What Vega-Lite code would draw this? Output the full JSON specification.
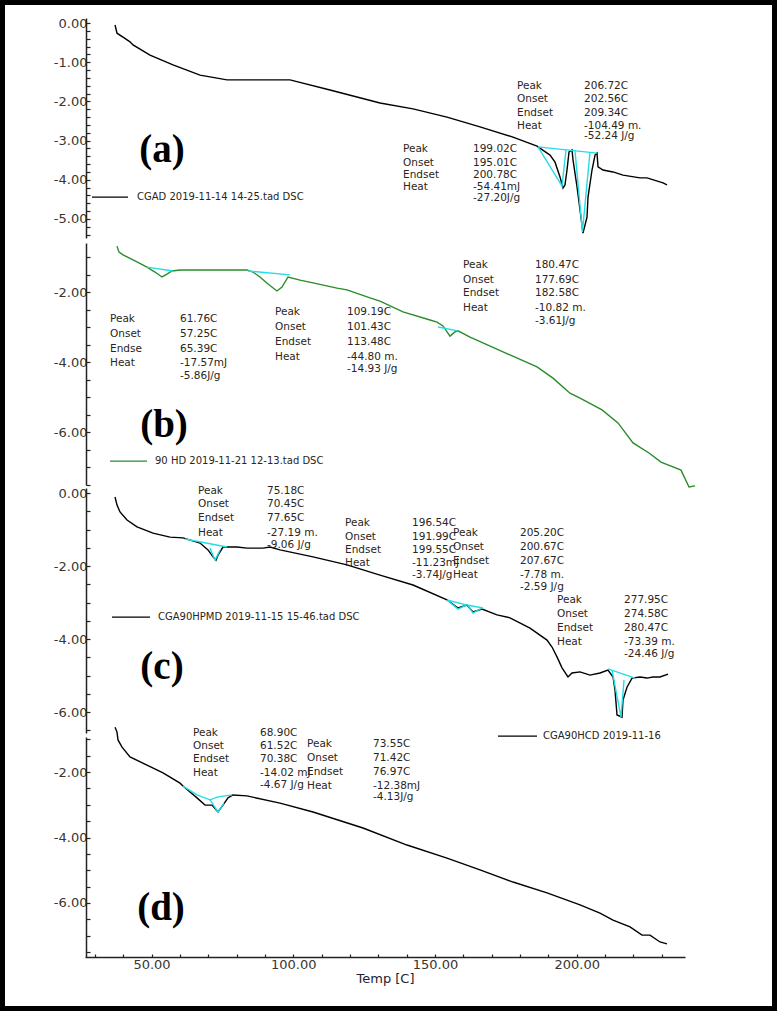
{
"$schema": "https://vega.github.io/schema/vega-lite/v6.json",
"width": 777, "height": 1011, "autosize": "none", "padding": 0, "background": "white",
"config": {
  "view": {"stroke": "black", "strokeWidth": 10, "fill": "white"},
  "axis": {"grid": false, "labelFont": "DejaVu Sans", "labelFontSize": 13, "labelColor": "#3a3530", "tickColor": "#222", "domainColor": "#222", "domainWidth": 1.5, "tickWidth": 1.2, "titleFont": "DejaVu Sans", "titleFontSize": 13, "titleFontWeight": "normal", "titleColor": "#223"}
},
"encoding": {
  "x": {"field": "T", "type": "quantitative",
    "scale": {"domain": [26.54, 238.18], "range": [85, 685], "zero": false, "nice": false},
    "axis": {"orient": "bottom", "offset": -54, "values": [30,40,50,60,70,80,90,100,110,120,130,140,150,160,170,180,190,200,210,220,230], "labelExpr": "datum.value % 50 === 0 ? format(datum.value, '.2f') : ''", "tickSize": -3, "labelPadding": 4, "title": "Temp [C]", "titlePadding": 1}}
},
"layer": [
{
  "encoding": {"y": {"field": "v", "type": "quantitative",
    "scale": {"domain": [-5.485, 0.128], "range": [238, 18], "zero": false, "nice": false},
    "axis": {"orient": "left", "offset": -86, "title": null, "tickSize": -4, "labelPadding": 3,
      "values": [0,-0.2,-0.4,-0.6,-0.8,-1,-1.2,-1.4,-1.6,-1.8,-2,-2.2,-2.4,-2.6,-2.8,-3,-3.2,-3.4,-3.6,-3.8,-4,-4.2,-4.4,-4.6,-4.8,-5,-5.2,-5.4],
      "labelExpr": "abs(datum.value % 1) < 0.001 ? replace(format(datum.value, '.2f'), '\u2212', '-') : ''"}}},
  "layer": [
    {"data": {"values": [
      {"T":37.13,"v":-0.05},{"T":37.83,"v":-0.26},{"T":39.95,"v":-0.36},{"T":42.42,"v":-0.48},{"T":43.48,"v":-0.56},{"T":49.47,"v":-0.82},{"T":57.58,"v":-1.07},{"T":67.11,"v":-1.33},{"T":76.63,"v":-1.45},{"T":98.85,"v":-1.45},{"T":112.96,"v":-1.71},{"T":130.60,"v":-2.04},{"T":142.24,"v":-2.19},{"T":154.23,"v":-2.40},{"T":165.87,"v":-2.65},{"T":177.51,"v":-2.91},{"T":185.98,"v":-3.14},{"T":190.56,"v":-3.37},{"T":192.33,"v":-3.55},{"T":194.09,"v":-3.93},{"T":195.15,"v":-4.21},{"T":195.85,"v":-4.13},{"T":196.56,"v":-3.75},{"T":197.27,"v":-3.29},{"T":198.33,"v":-3.24},{"T":198.68,"v":-3.49},{"T":200.09,"v":-4.18},{"T":201.15,"v":-4.77},{"T":202.20,"v":-5.36},{"T":203.62,"v":-4.95},{"T":203.97,"v":-4.44},{"T":205.38,"v":-3.75},{"T":206.44,"v":-3.37},{"T":207.14,"v":-3.32},{"T":207.50,"v":-3.67},{"T":209.26,"v":-3.75},{"T":212.79,"v":-3.80},{"T":216.31,"v":-3.88},{"T":222.31,"v":-3.95},{"T":224.78,"v":-3.95},{"T":230.42,"v":-4.08},{"T":231.83,"v":-4.13}]},
     "mark": {"type": "line", "color": "black", "strokeWidth": 1.4}, "encoding": {}},
    {"data": {"values": [
      {"g":"a1","T":186.33,"v":-3.16},{"g":"a1","T":207.14,"v":-3.32},
      {"g":"a2","T":186.33,"v":-3.16},{"g":"a2","T":194.80,"v":-4.16},{"g":"a2","T":196.2,"v":-3.24},
      {"g":"a3","T":199.39,"v":-3.27},{"g":"a3","T":202.0,"v":-5.33},{"g":"a3","T":204.67,"v":-3.29}]},
     "mark": {"type": "line", "color": "#22dde6", "strokeWidth": 1.4}, "encoding": {"detail": {"field": "g"}}},
    {"data": {"values": [
      {"T":178.92,"v":-1.61,"t":"Peak"},{"T":178.92,"v":-1.94,"t":"Onset"},{"T":178.92,"v":-2.30,"t":"Endset"},{"T":178.92,"v":-2.63,"t":"Heat"},
      {"T":202.56,"v":-1.61,"t":"206.72C"},{"T":202.56,"v":-1.94,"t":"202.56C"},{"T":202.56,"v":-2.30,"t":"209.34C"},{"T":202.56,"v":-2.63,"t":"-104.49 m."},{"T":202.56,"v":-2.89,"t":"-52.24 J/g"},
      {"T":138.71,"v":-3.21,"t":"Peak"},{"T":138.71,"v":-3.57,"t":"Onset"},{"T":138.71,"v":-3.88,"t":"Endset"},{"T":138.71,"v":-4.18,"t":"Heat"},
      {"T":163.40,"v":-3.21,"t":"199.02C"},{"T":163.40,"v":-3.57,"t":"195.01C"},{"T":163.40,"v":-3.88,"t":"200.78C"},{"T":163.40,"v":-4.18,"t":"-54.41mJ"},{"T":163.40,"v":-4.46,"t":"-27.20J/g"}]},
     "mark": {"type": "text", "align": "left", "baseline": "middle", "font": "DejaVu Sans", "fontSize": 10.5, "color": "#2a2520"}, "encoding": {"text": {"field": "t"}}},
    {"data": {"values": [{"T":44.89,"v":-4.44,"t":"CGAD 2019-11-14 14-25.tad  DSC"}]},
     "mark": {"type": "text", "align": "left", "baseline": "middle", "font": "DejaVu Sans", "fontSize": 10, "color": "#2a2520"}, "encoding": {"text": {"field": "t"}}},
    {"data": {"values": [{"T":53.70,"v":-3.24,"t":"(a)"}]},
     "mark": {"type": "text", "align": "center", "baseline": "middle", "font": "Liberation Serif", "fontWeight": "bold", "fontSize": 39, "color": "black"}, "encoding": {"text": {"field": "t"}}},
    {"data": {"values": [{"T":29.01,"T2":41.71,"v":-4.44}]},
     "mark": {"type": "rule", "color": "black", "strokeWidth": 1.3}, "encoding": {"x2": {"field": "T2"}}}
  ]
},
{
  "encoding": {"y": {"field": "v", "type": "quantitative",
    "scale": {"domain": [-7.514, -0.6], "range": [485, 243], "zero": false, "nice": false},
    "axis": {"orient": "left", "offset": -86, "title": null, "tickSize": -4, "labelPadding": 3,
      "values": [-1,-1.5,-2,-2.5,-3,-3.5,-4,-4.5,-5,-5.5,-6,-6.5,-7,-7.5],
      "labelExpr": "abs(datum.value % 2) < 0.001 ? replace(format(datum.value, '.2f'), '\u2212', '-') : ''"}}},
  "layer": [
    {"data": {"values": [
      {"T":37.83,"v":-0.69},{"T":38.53,"v":-0.86},{"T":39.95,"v":-0.94},{"T":44.18,"v":-1.11},{"T":48.41,"v":-1.29},{"T":51.23,"v":-1.43},{"T":53.70,"v":-1.57},{"T":55.47,"v":-1.49},{"T":57.23,"v":-1.40},{"T":60.05,"v":-1.37},{"T":63.58,"v":-1.37},{"T":83.69,"v":-1.37},{"T":85.80,"v":-1.43},{"T":88.27,"v":-1.57},{"T":91.10,"v":-1.77},{"T":94.27,"v":-1.97},{"T":96.03,"v":-1.86},{"T":98.15,"v":-1.57},{"T":102.38,"v":-1.66},{"T":106.97,"v":-1.74},{"T":115.43,"v":-1.89},{"T":118.96,"v":-1.94},{"T":127.07,"v":-2.17},{"T":130.60,"v":-2.26},{"T":138.71,"v":-2.57},{"T":148.24,"v":-2.80},{"T":150.71,"v":-2.86},{"T":152.82,"v":-2.97},{"T":155.29,"v":-3.26},{"T":157.05,"v":-3.14},{"T":158.11,"v":-3.11},{"T":162.35,"v":-3.29},{"T":173.99,"v":-3.71},{"T":185.98,"v":-4.14},{"T":191.62,"v":-4.46},{"T":197.62,"v":-4.89},{"T":201.15,"v":-5.03},{"T":208.91,"v":-5.37},{"T":214.55,"v":-5.74},{"T":219.84,"v":-6.31},{"T":225.49,"v":-6.60},{"T":229.72,"v":-6.86},{"T":236.77,"v":-7.09},{"T":239.59,"v":-7.57},{"T":241.71,"v":-7.54}]},
     "mark": {"type": "line", "color": "#2a8c2a", "strokeWidth": 1.4}, "encoding": {}},
    {"data": {"values": [
      {"g":"b1","T":48.41,"v":-1.29},{"g":"b1","T":57.58,"v":-1.40},
      {"g":"b2","T":84.04,"v":-1.40},{"g":"b2","T":98.85,"v":-1.51},
      {"g":"b3","T":151.06,"v":-3.00},{"g":"b3","T":158.11,"v":-3.11}]},
     "mark": {"type": "line", "color": "#22dde6", "strokeWidth": 1.4}, "encoding": {"detail": {"field": "g"}}},
    {"data": {"values": [
      {"T":35.36,"v":-2.77,"t":"Peak"},{"T":35.36,"v":-3.20,"t":"Onset"},{"T":35.36,"v":-3.63,"t":"Endse"},{"T":35.36,"v":-4.03,"t":"Heat"},
      {"T":60.05,"v":-2.77,"t":"61.76C"},{"T":60.05,"v":-3.20,"t":"57.25C"},{"T":60.05,"v":-3.63,"t":"65.39C"},{"T":60.05,"v":-4.03,"t":"-17.57mJ"},{"T":60.05,"v":-4.40,"t":"-5.86J/g"},
      {"T":93.56,"v":-2.57,"t":"Peak"},{"T":93.56,"v":-3.00,"t":"Onset"},{"T":93.56,"v":-3.43,"t":"Endset"},{"T":93.56,"v":-3.86,"t":"Heat"},
      {"T":118.96,"v":-2.57,"t":"109.19C"},{"T":118.96,"v":-3.00,"t":"101.43C"},{"T":118.96,"v":-3.43,"t":"113.48C"},{"T":118.96,"v":-3.86,"t":"-44.80 m."},{"T":118.96,"v":-4.20,"t":"-14.93 J/g"},
      {"T":159.88,"v":-1.23,"t":"Peak"},{"T":159.88,"v":-1.66,"t":"Onset"},{"T":159.88,"v":-2.03,"t":"Endset"},{"T":159.88,"v":-2.46,"t":"Heat"},
      {"T":185.27,"v":-1.23,"t":"180.47C"},{"T":185.27,"v":-1.66,"t":"177.69C"},{"T":185.27,"v":-2.03,"t":"182.58C"},{"T":185.27,"v":-2.46,"t":"-10.82 m."},{"T":185.27,"v":-2.83,"t":"-3.61J/g"}]},
     "mark": {"type": "text", "align": "left", "baseline": "middle", "font": "DejaVu Sans", "fontSize": 10.5, "color": "#2a2520"}, "encoding": {"text": {"field": "t"}}},
    {"data": {"values": [{"T":51.23,"v":-6.83,"t":"90 HD 2019-11-21 12-13.tad  DSC"}]},
     "mark": {"type": "text", "align": "left", "baseline": "middle", "font": "DejaVu Sans", "fontSize": 10, "color": "#2a2520"}, "encoding": {"text": {"field": "t"}}},
    {"data": {"values": [{"T":54.41,"v":-5.80,"t":"(b)"}]},
     "mark": {"type": "text", "align": "center", "baseline": "middle", "font": "Liberation Serif", "fontWeight": "bold", "fontSize": 39, "color": "black"}, "encoding": {"text": {"field": "t"}}},
    {"data": {"values": [{"T":35.36,"T2":48.41,"v":-6.83}]},
     "mark": {"type": "rule", "color": "#2a8c2a", "strokeWidth": 1.3}, "encoding": {"x2": {"field": "T2"}}}
  ]
},
{
  "encoding": {"y": {"field": "v", "type": "quantitative",
    "scale": {"domain": [-6.575, 0.137], "range": [733, 488], "zero": false, "nice": false},
    "axis": {"orient": "left", "offset": -86, "title": null, "tickSize": -4, "labelPadding": 3,
      "values": [0,-0.5,-1,-1.5,-2,-2.5,-3,-3.5,-4,-4.5,-5,-5.5,-6,-6.5],
      "labelExpr": "abs(datum.value % 2) < 0.001 ? replace(format(datum.value, '.2f'), '\u2212', '-') : ''"}}},
  "layer": [
    {"data": {"values": [
      {"T":37.13,"v":-0.11},{"T":37.83,"v":-0.33},{"T":38.89,"v":-0.52},{"T":41.36,"v":-0.74},{"T":44.89,"v":-0.93},{"T":50.53,"v":-1.10},{"T":56.53,"v":-1.21},{"T":61.11,"v":-1.23},{"T":67.11,"v":-1.37},{"T":69.93,"v":-1.56},{"T":71.69,"v":-1.75},{"T":72.75,"v":-1.84},{"T":73.46,"v":-1.70},{"T":75.22,"v":-1.48},{"T":76.63,"v":-1.48},{"T":80.16,"v":-1.48},{"T":83.69,"v":-1.51},{"T":89.33,"v":-1.51},{"T":91.80,"v":-1.48},{"T":95.33,"v":-1.56},{"T":106.97,"v":-1.75},{"T":118.96,"v":-1.97},{"T":130.60,"v":-2.25},{"T":142.24,"v":-2.52},{"T":154.23,"v":-2.93},{"T":158.11,"v":-3.15},{"T":161.29,"v":-3.07},{"T":163.40,"v":-3.26},{"T":166.58,"v":-3.18},{"T":171.87,"v":-3.34},{"T":176.45,"v":-3.42},{"T":183.51,"v":-3.70},{"T":189.51,"v":-4.03},{"T":191.27,"v":-4.22},{"T":193.03,"v":-4.49},{"T":194.80,"v":-4.79},{"T":196.91,"v":-5.04},{"T":198.33,"v":-4.93},{"T":201.15,"v":-4.90},{"T":204.67,"v":-4.99},{"T":208.20,"v":-4.93},{"T":211.02,"v":-4.85},{"T":212.79,"v":-5.04},{"T":213.49,"v":-5.40},{"T":214.20,"v":-6.08},{"T":215.96,"v":-6.14},{"T":216.31,"v":-5.67},{"T":217.72,"v":-5.32},{"T":219.49,"v":-5.07},{"T":222.31,"v":-5.04},{"T":224.78,"v":-5.07},{"T":226.90,"v":-5.04},{"T":229.37,"v":-5.04},{"T":232.19,"v":-4.96}]},
     "mark": {"type": "line", "color": "black", "strokeWidth": 1.4}, "encoding": {}},
    {"data": {"values": [
      {"g":"c1","T":61.82,"v":-1.26},{"g":"c1","T":76.63,"v":-1.48},
      {"g":"c2","T":70.63,"v":-1.51},{"g":"c2","T":72.4,"v":-1.84},{"g":"c2","T":74.2,"v":-1.56},
      {"g":"c3","T":154.23,"v":-2.93},{"g":"c3","T":161.29,"v":-3.07},
      {"g":"c4","T":154.6,"v":-2.95},{"g":"c4","T":158.11,"v":-3.18},{"g":"c4","T":161.0,"v":-3.07},
      {"g":"c5","T":161.29,"v":-3.07},{"g":"c5","T":166.93,"v":-3.15},
      {"g":"c6","T":161.6,"v":-3.08},{"g":"c6","T":163.40,"v":-3.29},{"g":"c6","T":166.6,"v":-3.15},
      {"g":"c7","T":211.02,"v":-4.82},{"g":"c7","T":220.55,"v":-5.07},
      {"g":"c8","T":212.43,"v":-4.85},{"g":"c8","T":215.61,"v":-6.14},{"g":"c8","T":216.67,"v":-5.12}]},
     "mark": {"type": "line", "color": "#22dde6", "strokeWidth": 1.4}, "encoding": {"detail": {"field": "g"}}},
    {"data": {"values": [
      {"T":66.40,"v":0.05,"t":"Peak"},{"T":66.40,"v":-0.30,"t":"Onset"},{"T":66.40,"v":-0.68,"t":"Endset"},{"T":66.40,"v":-1.10,"t":"Heat"},
      {"T":90.74,"v":0.05,"t":"75.18C"},{"T":90.74,"v":-0.30,"t":"70.45C"},{"T":90.74,"v":-0.68,"t":"77.65C"},{"T":90.74,"v":-1.10,"t":"-27.19 m."},{"T":90.74,"v":-1.42,"t":"-9.06 J/g"},
      {"T":118.25,"v":-0.82,"t":"Peak"},{"T":118.25,"v":-1.21,"t":"Onset"},{"T":118.25,"v":-1.56,"t":"Endset"},{"T":118.25,"v":-1.92,"t":"Heat"},
      {"T":141.89,"v":-0.82,"t":"196.54C"},{"T":141.89,"v":-1.21,"t":"191.99C"},{"T":141.89,"v":-1.56,"t":"199.55C"},{"T":141.89,"v":-1.92,"t":"-11.23mJ"},{"T":141.89,"v":-2.25,"t":"-3.74J/g"},
      {"T":156.35,"v":-1.10,"t":"Peak"},{"T":156.35,"v":-1.48,"t":"Onset"},{"T":156.35,"v":-1.86,"t":"Endset"},{"T":156.35,"v":-2.25,"t":"Heat"},
      {"T":179.98,"v":-1.10,"t":"205.20C"},{"T":179.98,"v":-1.48,"t":"200.67C"},{"T":179.98,"v":-1.86,"t":"207.67C"},{"T":179.98,"v":-2.25,"t":"-7.78 m."},{"T":179.98,"v":-2.58,"t":"-2.59 J/g"},
      {"T":193.03,"v":-2.93,"t":"Peak"},{"T":193.03,"v":-3.32,"t":"Onset"},{"T":193.03,"v":-3.70,"t":"Endset"},{"T":193.03,"v":-4.08,"t":"Heat"},
      {"T":216.67,"v":-2.93,"t":"277.95C"},{"T":216.67,"v":-3.32,"t":"274.58C"},{"T":216.67,"v":-3.70,"t":"280.47C"},{"T":216.67,"v":-4.08,"t":"-73.39 m."},{"T":216.67,"v":-4.41,"t":"-24.46 J/g"}]},
     "mark": {"type": "text", "align": "left", "baseline": "middle", "font": "DejaVu Sans", "fontSize": 10.5, "color": "#2a2520"}, "encoding": {"text": {"field": "t"}}},
    {"data": {"values": [
      {"T":52.29,"v":-3.40,"t":"CGA90HPMD 2019-11-15 15-46.tad  DSC"},
      {"T":188.10,"v":-6.66,"t":"CGA90HCD 2019-11-16"}]},
     "mark": {"type": "text", "align": "left", "baseline": "middle", "font": "DejaVu Sans", "fontSize": 10, "color": "#2a2520"}, "encoding": {"text": {"field": "t"}}},
    {"data": {"values": [{"T":53.70,"v":-4.77,"t":"(c)"}]},
     "mark": {"type": "text", "align": "center", "baseline": "middle", "font": "Liberation Serif", "fontWeight": "bold", "fontSize": 39, "color": "black"}, "encoding": {"text": {"field": "t"}}},
    {"data": {"values": [{"T":36.07,"T2":49.47,"v":-3.40},{"T":172.22,"T2":185.98,"v":-6.66}]},
     "mark": {"type": "rule", "color": "black", "strokeWidth": 1.3}, "encoding": {"x2": {"field": "T2"}}}
  ]
},
{
  "encoding": {"y": {"field": "v", "type": "quantitative",
    "scale": {"domain": [-7.649, -0.931], "range": [957, 737], "zero": false, "nice": false},
    "axis": {"orient": "left", "offset": -86, "title": null, "tickSize": -4, "labelPadding": 3,
      "values": [-1,-1.5,-2,-2.5,-3,-3.5,-4,-4.5,-5,-5.5,-6,-6.5,-7,-7.5],
      "labelExpr": "abs(datum.value % 2) < 0.001 ? replace(format(datum.value, '.2f'), '\u2212', '-') : ''"}}},
  "layer": [
    {"data": {"values": [
      {"T":37.13,"v":-0.63},{"T":37.83,"v":-0.78},{"T":38.18,"v":-1.02},{"T":39.60,"v":-1.24},{"T":42.42,"v":-1.54},{"T":48.41,"v":-1.79},{"T":54.06,"v":-2.03},{"T":60.05,"v":-2.34},{"T":61.11,"v":-2.43},{"T":63.58,"v":-2.61},{"T":66.05,"v":-2.79},{"T":68.87,"v":-3.01},{"T":71.34,"v":-3.01},{"T":73.46,"v":-3.22},{"T":75.22,"v":-3.01},{"T":76.98,"v":-2.79},{"T":78.75,"v":-2.70},{"T":83.69,"v":-2.73},{"T":95.33,"v":-2.95},{"T":106.97,"v":-3.22},{"T":124.60,"v":-3.71},{"T":140.12,"v":-4.23},{"T":154.23,"v":-4.63},{"T":165.87,"v":-4.99},{"T":177.51,"v":-5.36},{"T":189.51,"v":-5.69},{"T":201.15,"v":-6.06},{"T":208.20,"v":-6.31},{"T":212.79,"v":-6.52},{"T":218.78,"v":-6.73},{"T":223.02,"v":-6.98},{"T":225.84,"v":-6.98},{"T":229.37,"v":-7.19},{"T":231.83,"v":-7.25}]},
     "mark": {"type": "line", "color": "black", "strokeWidth": 1.4}, "encoding": {}},
    {"data": {"values": [
      {"g":"d1","T":61.11,"v":-2.43},{"g":"d1","T":66.05,"v":-2.70},{"g":"d1","T":70.63,"v":-2.85},{"g":"d1","T":73.46,"v":-2.76},{"g":"d1","T":78.39,"v":-2.70},
      {"g":"d2","T":70.63,"v":-2.85},{"g":"d2","T":73.46,"v":-3.22},{"g":"d2","T":75.57,"v":-2.95}]},
     "mark": {"type": "line", "color": "#22dde6", "strokeWidth": 1.4}, "encoding": {"detail": {"field": "g"}}},
    {"data": {"values": [
      {"T":64.64,"v":-0.81,"t":"Peak"},{"T":64.64,"v":-1.21,"t":"Onset"},{"T":64.64,"v":-1.60,"t":"Endset"},{"T":64.64,"v":-2.03,"t":"Heat"},
      {"T":88.27,"v":-0.81,"t":"68.90C"},{"T":88.27,"v":-1.21,"t":"61.52C"},{"T":88.27,"v":-1.60,"t":"70.38C"},{"T":88.27,"v":-2.03,"t":"-14.02 mJ"},{"T":88.27,"v":-2.40,"t":"-4.67 J/g"},
      {"T":104.85,"v":-1.15,"t":"Peak"},{"T":104.85,"v":-1.57,"t":"Onset"},{"T":104.85,"v":-2.00,"t":"Endset"},{"T":104.85,"v":-2.43,"t":"Heat"},
      {"T":128.13,"v":-1.15,"t":"73.55C"},{"T":128.13,"v":-1.57,"t":"71.42C"},{"T":128.13,"v":-2.00,"t":"76.97C"},{"T":128.13,"v":-2.43,"t":"-12.38mJ"},{"T":128.13,"v":-2.76,"t":"-4.13J/g"}]},
     "mark": {"type": "text", "align": "left", "baseline": "middle", "font": "DejaVu Sans", "fontSize": 10.5, "color": "#2a2520"}, "encoding": {"text": {"field": "t"}}},
    {"data": {"values": [{"T":53.35,"v":-6.15,"t":"(d)"}]},
     "mark": {"type": "text", "align": "center", "baseline": "middle", "font": "Liberation Serif", "fontWeight": "bold", "fontSize": 39, "color": "black"}, "encoding": {"text": {"field": "t"}}}
  ]
}
],
"resolve": {"scale": {"y": "independent"}, "axis": {"y": "independent"}}
}
